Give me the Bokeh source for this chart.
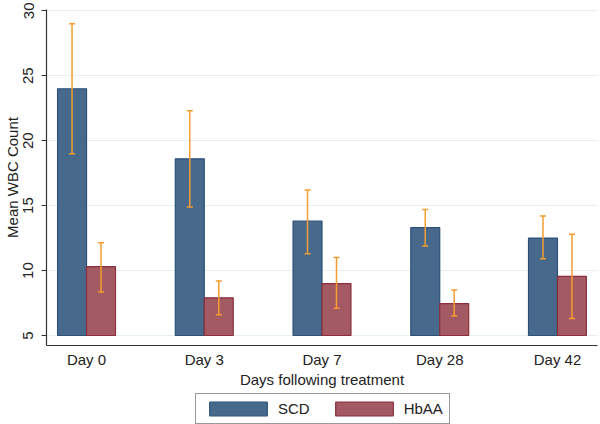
from bokeh.plotting import figure
from bokeh.layouts import column
from bokeh.models import (ColumnDataSource, FactorRange, Range1d, Whisker, TeeHead,
                          Legend, LegendItem, FixedTicker)
from bokeh.transform import dodge
from bokeh.embed import file_html
from bokeh.resources import INLINE

days = ["Day 0", "Day 3", "Day 7", "Day 28", "Day 42"]
scd_mean = [24.0, 18.6, 13.8, 13.3, 12.5]
scd_upper = [29.0, 22.3, 16.2, 14.7, 14.2]
scd_lower = [19.0, 14.9, 11.3, 11.9, 10.9]
hbaa_mean = [10.3, 7.9, 9.0, 7.45, 9.55]
hbaa_upper = [12.15, 9.2, 11.0, 8.5, 12.8]
hbaa_lower = [8.35, 6.6, 7.1, 6.5, 6.3]
y_ticks = [5, 10, 15, 20, 25, 30]
series_names = ["SCD", "HbAA"]
base_value = 5

FONT = "Liberation Sans"
BLUE_FILL = "#476a8c"
BLUE_LINE = "#2c507a"
RED_FILL = "#a45a63"
RED_LINE = "#8c2e3c"
ORANGE = "#f39d32"

src = ColumnDataSource(dict(
    day=days, scd=scd_mean, scd_up=scd_upper, scd_lo=scd_lower,
    hbaa=hbaa_mean, hbaa_up=hbaa_upper, hbaa_lo=hbaa_lower,
    base=[base_value] * len(days),
))

x_range = FactorRange(factors=days, range_padding=-0.16, range_padding_units="absolute")
p = figure(x_range=x_range, y_range=Range1d(4.23, 30.1), frame_width=551, frame_height=336,
           output_backend="svg", toolbar_location=None,
           min_border_left=45, min_border_right=2, min_border_top=9, min_border_bottom=0)

off = 0.123
w = 0.246
p.vbar(x=dodge("day", -off, range=p.x_range), top="scd", bottom="base", width=w,
       source=src, fill_color=BLUE_FILL, line_color=BLUE_LINE, line_width=1.2)
p.vbar(x=dodge("day", off, range=p.x_range), top="hbaa", bottom="base", width=w,
       source=src, fill_color=RED_FILL, line_color=RED_LINE, line_width=1.2)

for o, up, lo in [(-off, "scd_up", "scd_lo"), (off, "hbaa_up", "hbaa_lo")]:
    wk = Whisker(base=dodge("day", o, range=p.x_range), upper=up, lower=lo, source=src,
                 line_color=ORANGE, line_width=1.5, level="overlay",
                 upper_head=TeeHead(size=6, line_color=ORANGE, line_width=1.5),
                 lower_head=TeeHead(size=6, line_color=ORANGE, line_width=1.5))
    p.add_layout(wk)

p.outline_line_color = None
p.background_fill_color = "white"
p.xgrid.grid_line_color = None
p.ygrid.grid_line_color = "#e6eff2"
p.ygrid.grid_line_width = 1.2
p.yaxis.ticker = FixedTicker(ticks=y_ticks)
p.yaxis.major_label_orientation = "vertical"
p.yaxis.minor_tick_line_color = None
p.yaxis.major_tick_out = 5
p.yaxis.major_tick_in = 0
p.yaxis.axis_label = "Mean WBC Count"
p.xaxis.axis_label = "Days following treatment"
for ax in (p.xaxis, p.yaxis):
    ax.axis_line_color = "#333333"
    ax.axis_line_width = 1.2
    ax.major_label_text_font = FONT
    ax.major_label_text_font_size = "15px"
    ax.major_label_text_color = "#222222"
    ax.axis_label_text_font = FONT
    ax.axis_label_text_font_size = "15px"
    ax.axis_label_text_font_style = "normal"
    ax.axis_label_text_color = "#222222"
p.yaxis.major_tick_line_color = "#333333"
p.yaxis.major_label_standoff = 8
p.yaxis.axis_label_standoff = 0
p.xaxis.major_tick_line_color = None
p.xaxis.major_tick_out = 0
p.xaxis.major_tick_in = 0
p.xaxis.major_label_standoff = 5
p.xaxis.axis_label_standoff = 0

# legend strip below the chart (its glyphs sit outside the visible range)
lg = figure(width=598, height=35, x_range=Range1d(0, 1), y_range=Range1d(0, 1),
            output_backend="svg", toolbar_location=None, min_border=0)
lg.axis.visible = False
lg.grid.visible = False
lg.outline_line_color = None
hidden = ColumnDataSource(dict(x=[-10.0], top=[-10.0], bottom=[-11.0]))
g1 = lg.vbar(x="x", top="top", bottom="bottom", width=0.1, source=hidden,
             fill_color=BLUE_FILL, line_color=BLUE_LINE, line_width=1.2)
g2 = lg.vbar(x="x", top="top", bottom="bottom", width=0.1, source=hidden,
             fill_color=RED_FILL, line_color=RED_LINE, line_width=1.2)
legend = Legend(items=[LegendItem(label=series_names[0], renderers=[g1]),
                       LegendItem(label=series_names[1], renderers=[g2])],
                orientation="horizontal", location=(149, 1),
                glyph_width=72, glyph_height=17, label_height=15, label_text_font=FONT,
                label_text_font_size="15px", label_standoff=4, spacing=18,
                padding=6, margin=0, border_line_color="#333333", border_line_width=1.2,
                label_text_color="#222222")
lg.add_layout(legend)

open("out.html", "w").write(file_html(column(p, lg, spacing=0), INLINE))
